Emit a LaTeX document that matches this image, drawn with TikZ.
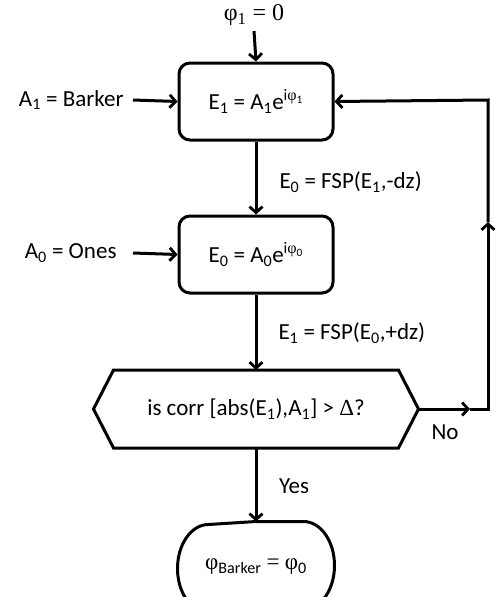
\documentclass[tikz,border=0pt]{standalone}
\usepackage{fontspec}
\setmainfont{Carlito}
\newfontfamily\phf{Liberation Serif}
\usetikzlibrary{arrows.meta,calc}
\newcommand{\ph}{{\phf φ}}
\newcommand{\sbs}[1]{\textsubscript{#1}}
\begin{document}
\begin{tikzpicture}[x=1pt,y=-1pt,line width=3pt,
  tip/.style={-{Straight Barb[length=6pt,width=13pt,line width=2.8pt]}},
  txt/.style={font=\fontsize{23}{27}\selectfont,inner sep=0pt},
  procbox/.style={draw,rounded corners=11pt,minimum width=154pt,minimum height=77pt,txt}]
\useasboundingbox (0,0) rectangle (498,597);
\clip (0,0) rectangle (498,597);
% nodes
\node[txt] (phi) at (254,15) {{\phf\fontsize{24}{27}\selectfont φ\textsubscript{1} = 0}};
\node[procbox] (box1) at (256,101.5) {E\sbs{1} = A\sbs{1}e\textsuperscript{i\ph\sbs{1}}};
\node[txt,anchor=east] (a1) at (125,100) {A\sbs{1} = Barker};
\node[txt,anchor=west] (l1) at (278,182) {E\sbs{0} = FSP(E\sbs{1},-dz)};
\node[procbox] (box2) at (256,254.5) {E\sbs{0} = A\sbs{0}e\textsuperscript{i\ph\sbs{0}}};
\node[txt,anchor=east] (a0) at (118,253) {A\sbs{0} = Ones};
\node[txt,anchor=west] (l2) at (277,333) {E\sbs{1} = FSP(E\sbs{0},+dz)};
\node[txt,minimum width=322pt,minimum height=75pt] (hex) at (256,409)
  {is corr [abs(E\sbs{1}),A\sbs{1}] > {\phf Δ}?};
\draw[line join=miter] ($(hex.north west)+(20,0)$) -- ($(hex.north east)+(-20,0)$) -- (hex.east)
  -- ($(hex.south east)+(-20,0)$) -- ($(hex.south west)+(20,0)$) -- (hex.west) -- cycle;
\node[txt] (no) at (445,432) {No};
\node[txt] (yes) at (294,486) {Yes};
\node[txt,minimum width=154pt,minimum height=88pt] (box3) at (256,567)
  {\ph\sbs{Barker} {\phf =} \ph\sbs{0}};
\draw[line join=round] (box3.north) -- ($(box3.north east)+(-31,0)$)
  arc[start angle=90,end angle=-90,x radius=31pt,y radius=44pt]
  -- ($(box3.south west)+(31,0)$)
  arc[start angle=-90,end angle=-270,x radius=31pt,y radius=44pt] -- (box3.north);
% loop coordinates
\coordinate (m1) at (470,409);
\coordinate (c1) at (488,409);
\coordinate (m2) at (488,222);
\coordinate (c2) at (488,100);
% connectors
\draw[tip] (phi.south) ++(0,4) coordinate (p0) (p0) -- (box1.north);
\draw[tip] ([xshift=8pt]a1.east) -- (box1.west);
\draw[tip] ([xshift=15pt]a0.east) -- (box2.west);
\draw[tip] (box1.south) -- (box2.north);
\draw[tip] (box2.south) -- (hex.north);
\draw[tip] (hex.south) -- (box3.north);
\draw[tip] (hex.east) -- (m1);
\draw[tip,line join=miter] (m1) -- (c1) -- (m2);
\draw[tip,line join=miter] (m2) -- (c2) -- (box1.east);
\end{tikzpicture}
\end{document}
